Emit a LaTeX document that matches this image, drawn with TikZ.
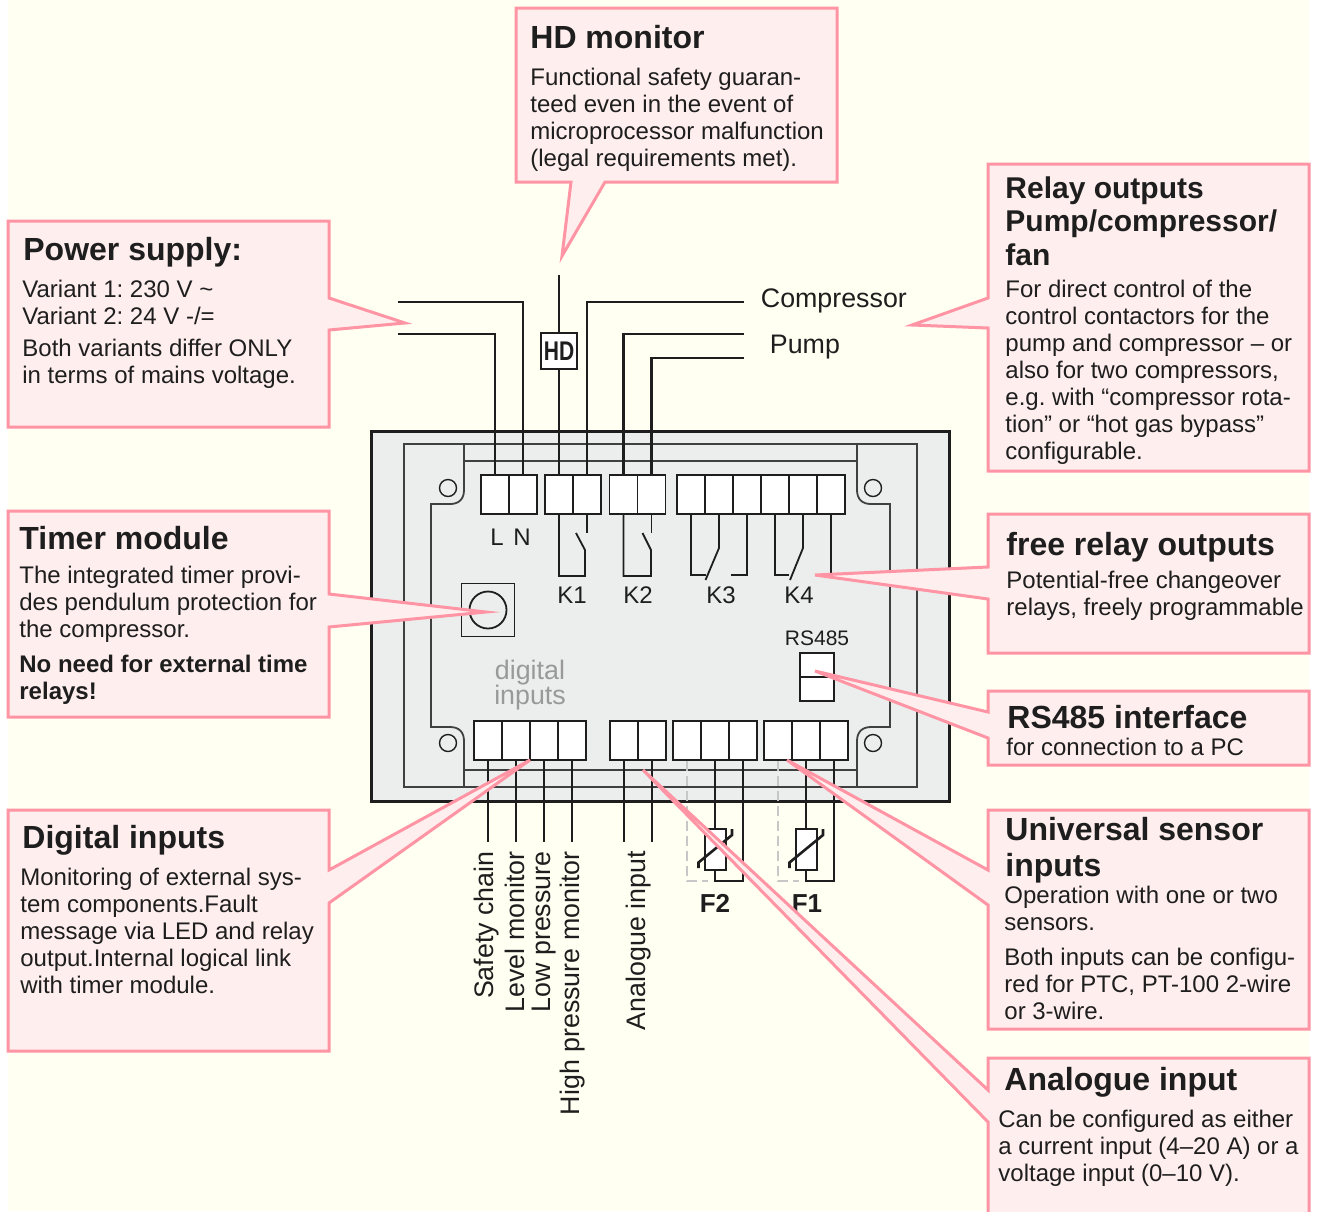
\documentclass[tikz,border=0pt]{standalone}
\usepackage{fontspec}
\setmainfont{Liberation Sans}
\definecolor{creme}{HTML}{FFFFF2}
\definecolor{boitier}{HTML}{ECEEED}
\definecolor{rosefond}{HTML}{FFEEEE}
\definecolor{rosetrait}{HTML}{FF94A4}
\definecolor{encre}{HTML}{1E1E1E}
\newcommand{\corps}{\fontsize{12}{13.5}\selectfont\frenchspacing}
\newcommand{\titre}{\fontsize{16}{16.75}\selectfont\bfseries}
\newcommand{\moyen}{\fontsize{13.4}{15}\selectfont}

\begin{document}
\begin{tikzpicture}[x=0.5pt, y=-0.5pt]
\tikzset{bulle/.style={draw=rosetrait, fill=rosefond, line width=1.5pt, line join=miter},
  borne/.style={draw=encre, fill=white, line width=0.8pt, minimum width=14pt, minimum height=19.5pt, inner sep=0pt},
  fil/.style={draw=encre, line width=1.3pt},
  filin/.style={draw=encre, line width=0.9pt},
  cadre/.style={draw=encre!85, line width=0.9pt},
  pointille/.style={draw=black!22, line width=1pt, dash pattern=on 5pt off 2.5pt},
  texte/.style={anchor=north west, inner sep=0pt, align=left, text=encre, font=\corps},
  entete/.style={anchor=north west, inner sep=0pt, align=left, text=encre, font=\titre},
  etiq/.style={inner sep=0pt, text=encre, font=\corps},
  vertical/.style={rotate=90, anchor=east, inner sep=0pt, text=encre, font=\moyen}}
\useasboundingbox (0,0) rectangle (1320,1211);
\fill[white] (0,0) rectangle (1320,1211);
\fill[creme] (8,0) rectangle (1309,1211);
% boitier
\draw[fill=boitier, draw=encre, line width=1.5pt] (371,431) rectangle (949,801);
\draw[cadre] (404,444) rectangle (917,787);
\draw[cadre] (464,444) rectangle (857,461);
\draw[cadre] (464,770) rectangle (857,787);
\draw[cadre] (464,461) -- (464,490) .. controls (464,499) and (459,504) .. (450,504) -- (431,504) -- (431,727) -- (450,727) .. controls (459,727) and (464,732) .. (464,741) -- (464,770);
\draw[cadre] (857,461) -- (857,490) .. controls (857,499) and (862,504) .. (871,504) -- (890,504) -- (890,727) -- (871,727) .. controls (862,727) and (857,732) .. (857,741) -- (857,770);
\foreach \xv/\yv/\nom in {448/488/visA, 873/488/visB, 448/743/visC, 873/743/visD}
  \node[draw=encre, circle, line width=0.7pt, minimum size=8.5pt, inner sep=0pt] (\nom) at (\xv,\yv) {};
\node[draw=encre, line width=0.9pt, minimum size=26.5pt, inner sep=0pt] (minuterie) at (488,610) {};
\node[draw=encre, line width=0.9pt, circle, minimum size=18.5pt, inner sep=0pt] (bouton) at (488,610) {};
% bornes
\foreach \nom/\xv in {tL/495, tN/523, tKa/559, tKb/587, tKc/623.5, tKd/651.5, tA/691, tB/719, tC/747, tD/775, tE/803, tF/831}
  \node[borne] (\nom) at (\xv,494.5) {};
\foreach \nom/\xv in {bA/488, bB/516, bC/544, bD/572, bE/624, bF/652, bG/687, bH/715, bI/743, bJ/778, bK/806, bL/834}
  \node[borne] (\nom) at (\xv,740.5) {};
\node[borne, minimum width=17pt, minimum height=12pt] (rsA) at (817,665) {};
\node[borne, minimum width=17pt, minimum height=12pt] (rsB) at (817,689) {};
% fils du haut
\coordinate (finN) at (398,302);
\coordinate (finL) at (398,334);
\coordinate (finHD) at (559,275);
\coordinate (finC) at (743.5,302);
\coordinate (finP) at (743.5,334);
\coordinate (finV) at (743.5,358);
\node[draw=encre, fill=white, line width=1.2pt, minimum width=18pt, minimum height=18pt, inner sep=0pt, text=encre, font=\fontsize{13.5}{14}\selectfont\bfseries] (hd) at (559,351) {\scalebox{.78}[1]{HD}};
\draw[fil] (tL.north) |- (finL);
\draw[fil] (tN.north) |- (finN);
\draw[fil] (tKa.north) -- (hd.south);
\draw[fil] (hd.north) -- (finHD);
\draw[fil] (tKb.north) |- (finC);
\draw[fil] (tKc.north) |- (finP);
\draw[fil] (tKd.north) |- (finV);
% relais
\coordinate (kAa) at (585,576);
\coordinate (kAb) at (585,550);
\coordinate (kAc) at (576,533);
\coordinate (kAd) at (587,533);
\draw[filin] (tKa.south) |- (kAa) -- (kAb) -- (kAc);
\draw[filin] (tKb.south) -- (kAd);
\coordinate (kBa) at (651,576);
\coordinate (kBb) at (651,550);
\coordinate (kBc) at (642.5,533);
\coordinate (kBd) at (651.5,533);
\draw[filin] (tKc.south) |- (kBa) -- (kBb) -- (kBc);
\draw[filin] (tKd.south) -- (kBd);
\coordinate (kCa) at (706,575);
\coordinate (kCb) at (719,548);
\coordinate (kCc) at (705.5,580);
\coordinate (kCd) at (731,575);
\draw[filin] (tA.south) |- (kCa);
\draw[filin] (tB.south) -- (kCb) -- (kCc);
\draw[filin] (tC.south) |- (kCd);
\coordinate (kDa) at (789,575);
\coordinate (kDb) at (803,548);
\coordinate (kDc) at (790,580);
\coordinate (kDd) at (815,575);
\draw[filin] (tD.south) |- (kDa);
\draw[filin] (tE.south) -- (kDb) -- (kDc);
\draw[filin] (tF.south) |- (kDd);
% fils du bas
\foreach \nom in {bA, bB, bC, bD, bE, bF}
  \draw[fil] (\nom.south) -- (\nom.south |- 0,842);
\node[draw=encre, fill=white, line width=1pt, minimum width=10.5pt, minimum height=20.5pt, inner sep=0pt] (rFa) at (715,849) {};
\node[draw=encre, fill=white, line width=1pt, minimum width=10.5pt, minimum height=20.5pt, inner sep=0pt] (rFb) at (806,849) {};
\coordinate (pFa) at (743,881);
\coordinate (dFa) at (708,881);
\coordinate (pFb) at (834,881);
\coordinate (dFb) at (799,881);
\draw[fil] (bH.south) -- (rFa.north);
\draw[fil] (rFa.south) |- (pFa) -- (bI.south);
\draw[fil] (bK.south) -- (rFb.north);
\draw[fil] (rFb.south) |- (pFb) -- (bL.south);
\draw[pointille] (bG.south) |- (dFa);
\draw[pointille] (bJ.south) |- (dFb);
\foreach \nom in {rFa, rFb}
  \draw[fil] (\nom.center) ++(-16.5,19) -- ++(0,-5.5) -- ++(33.5,-27.5) -- ++(0,-6);
% etiquettes
\node[etiq, anchor=base] (lblL) at (497,545) {L};
\node[etiq, anchor=base] (lblN) at (522,545) {N};
\node[etiq, anchor=base] (lblKa) at (572,603) {K1};
\node[etiq, anchor=base] (lblKb) at (638,603) {K2};
\node[etiq, anchor=base] (lblKc) at (721,603) {K3};
\node[etiq, anchor=base] (lblKd) at (799,603) {K4};
\node[inner sep=0pt, anchor=base, text=encre, font=\fontsize{10.5}{12}\selectfont] (lblRS) at (817,645) {RS485};
\node[inner sep=0pt, align=center, text=black!40, font=\fontsize{13.4}{12.5}\selectfont] (lblDig) at (530,685) {digital\\inputs};
\node[inner sep=0pt, anchor=base west, text=encre, font=\moyen] (lblComp) at (760.5,307) {Compressor};
\node[inner sep=0pt, anchor=base west, text=encre, font=\moyen] (lblPump) at (769.5,353) {Pump};
\node[vertical] (lblA) at (487,851) {Safety chain};
\node[vertical] (lblB) at (515,851) {Level monitor};
\node[vertical] (lblC) at (544,851) {Low pressure};
\node[vertical] (lblD) at (573,851) {High pressure monitor};
\node[vertical] (lblE) at (639,851) {Analogue input};
\node[inner sep=0pt, anchor=base, text=encre, font=\fontsize{13}{14}\selectfont\bfseries] (lblFa) at (715,912) {F2};
\node[inner sep=0pt, anchor=base, text=encre, font=\fontsize{13}{14}\selectfont\bfseries] (lblFb) at (807,912) {F1};
% bulles
\draw[bulle] (516,8) -- (837,8) -- (837,182) -- (605,182) -- (562,256) -- (571,182) -- (516,182) -- cycle;
\draw[bulle] (8,221) -- (329,221) -- (329,298) -- (405,323) -- (329,330) -- (329,427) -- (8,427) -- cycle;
\draw[bulle] (8,511) -- (329,511) -- (329,594) -- (486,612) -- (329,627) -- (329,717) -- (8,717) -- cycle;
\draw[bulle] (8,810) -- (329,810) -- (329,870) -- (530,760) -- (329,903) -- (329,1051) -- (8,1051) -- cycle;
\draw[bulle] (988,164) -- (1309,164) -- (1309,471) -- (988,471) -- (988,328) -- (912,325) -- (988,298) -- cycle;
\draw[bulle] (988,514) -- (1309,514) -- (1309,653) -- (988,653) -- (988,599) -- (815,575) -- (988,567) -- cycle;
\draw[bulle] (988,691) -- (1309,691) -- (1309,765) -- (988,765) -- (988,738) -- (815,671) -- (988,712) -- cycle;
\draw[bulle] (988,810) -- (1309,810) -- (1309,1029) -- (988,1029) -- (988,905) -- (787,760) -- (988,870) -- cycle;
\draw[bulle] (988,1214) -- (988,1122) -- (643,770) -- (988,1090) -- (988,1058) -- (1309,1058) -- (1309,1214);
% textes
\node[entete] (titreHD) at (530,25) {HD monitor};
\node[texte] (corpsHD) at (530,68) {Functional safety guaran-\\teed even in the event of\\microprocessor malfunction\\(legal requirements met).};
\node[entete] (titrePS) at (23,237) {Power supply:};
\node[texte] (corpsPS) at (22,280) {Variant 1: 230 V \textasciitilde\\Variant 2: 24 V -/=\\[2.5pt]Both variants differ ONLY\\in terms of mains voltage.};
\node[entete, font=\fontsize{15}{16.75}\selectfont\bfseries] (titreRO) at (1005,176) {Relay outputs\\Pump/compressor/\\fan};
\node[texte] (corpsRO) at (1005,279.5) {For direct control of the\\control contactors for the\\pump and compressor – or\\also for two compressors,\\e.g. with “compressor rota-\\tion” or “hot gas bypass”\\configurable.};
\node[entete] (titreTM) at (19,526) {Timer module};
\node[texte] (corpsTM) at (19,565.5) {The integrated timer provi-\\des pendulum protection for\\the compressor.\\[4pt]\textbf{No need for external time}\\\textbf{relays!}};
\node[entete] (titreFR) at (1006,532) {free relay outputs};
\node[texte] (corpsFR) at (1006,570.5) {Potential-free changeover\\relays, freely programmable};
\node[entete] (titreRS) at (1007,705) {RS485 interface};
\node[texte] (corpsRS) at (1006,737.5) {for connection to a PC};
\node[entete] (titreDI) at (22,825) {Digital inputs};
\node[texte] (corpsDI) at (20,868) {Monitoring of external sys-\\tem components.Fault\\message via LED and relay\\output.Internal logical link\\with timer module.};
\node[entete, font=\fontsize{16}{18}\selectfont\bfseries] (titreUS) at (1005,817) {Universal sensor\\inputs};
\node[texte] (corpsUS) at (1004,885.5) {Operation with one or two\\sensors.\\[4pt]Both inputs can be configu-\\red for PTC, PT-100 2-wire\\or 3-wire.};
\node[entete] (titreAI) at (1004,1067) {Analogue input};
\node[texte] (corpsAI) at (998,1109.5) {Can be configured as either\\a current input (4–20 A) or a\\voltage input (0–10 V).};
\end{tikzpicture}
\end{document}
